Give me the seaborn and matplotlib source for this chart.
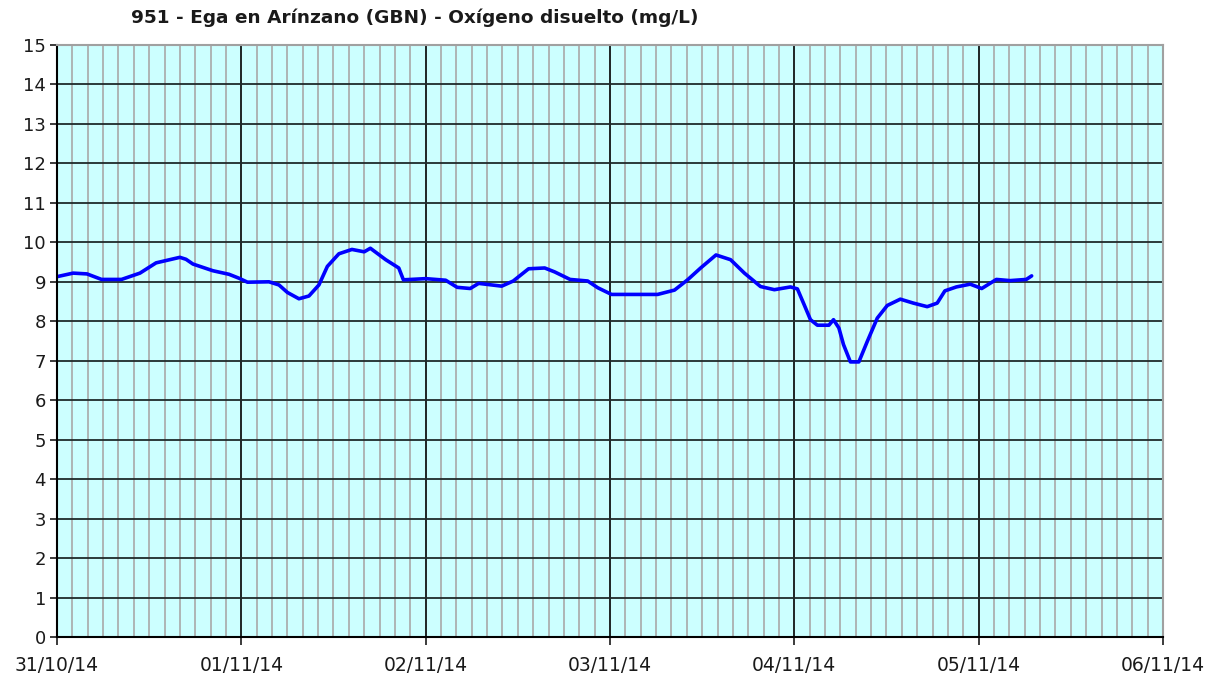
import pandas as pd
import numpy as np
import matplotlib
matplotlib.use('Agg')
import matplotlib.pyplot as plt
import matplotlib.dates as mdates
import seaborn as sns

# Data: hours since 31/10/14 00:00 and dissolved oxygen (mg/L)
start = '2014-10-31 00:00'
hours = [0, 2.1, 3.9, 5.8, 8.4, 10.8, 12.9, 16.0, 16.8, 17.7, 20.3, 22.4, 23.7,
         24.8, 27.6, 28.9, 30.0, 31.5, 32.8, 34.1, 35.2, 36.7, 38.4, 40.0, 40.8,
         42.8, 44.5, 45.1, 48.0, 50.6, 52.1, 53.8, 54.9, 57.9, 59.4, 61.4, 63.5,
         64.8, 66.8, 69.1, 70.4, 72.2, 78.2, 80.4, 82.1, 83.8, 85.8, 87.7, 89.5,
         91.6, 93.4, 95.5, 96.4, 97.3, 98.1, 99.0, 100.5, 101.1, 101.8, 102.4,
         103.3, 104.4, 105.5, 106.8, 108.1, 109.8, 111.5, 113.3, 114.6, 115.6,
         117.1, 118.9, 120.4, 122.3, 124.1, 126.2, 126.9]
oxygen = [9.13, 9.22, 9.20, 9.06, 9.06, 9.22, 9.48, 9.62, 9.57, 9.45, 9.28, 9.19, 9.09,
          8.99, 9.00, 8.92, 8.73, 8.57, 8.64, 8.92, 9.39, 9.71, 9.82, 9.76, 9.85,
          9.56, 9.35, 9.05, 9.08, 9.04, 8.86, 8.83, 8.96, 8.89, 9.02, 9.33, 9.35,
          9.25, 9.06, 9.02, 8.85, 8.68, 8.68, 8.79, 9.05, 9.35, 9.68, 9.56, 9.22,
          8.88, 8.80, 8.87, 8.82, 8.41, 8.04, 7.90, 7.90, 8.04, 7.83, 7.41,
          6.97, 6.97, 7.49, 8.08, 8.40, 8.56, 8.46, 8.37, 8.46, 8.77,
          8.87, 8.94, 8.83, 9.06, 9.03, 9.06, 9.15]
x_start = '2014-10-31'
x_end = '2014-11-06'
title = '951 - Ega en Arínzano (GBN) - Oxígeno disuelto (mg/L)'

df = pd.DataFrame({
    'fecha': pd.Timestamp(start) + pd.to_timedelta(hours, unit='h'),
    'valor': oxygen,
})

sns.set_style('white')
plt.rcParams['font.family'] = ['DejaVu Sans']

fig = plt.figure(figsize=(12.22, 6.77), dpi=100)
ax = fig.add_axes([57 / 1222, 40 / 677, 1106 / 1222, 592 / 677])
ax.set_facecolor('#ccffff')

sns.lineplot(data=df, x='fecha', y='valor', ax=ax, color='#0000ff', linewidth=2.6)

ax.set_xlim(pd.Timestamp(x_start), pd.Timestamp(x_end))
ax.set_ylim(0, 15)
ax.set_yticks(range(0, 16))

ax.xaxis.set_major_locator(mdates.DayLocator())
ax.xaxis.set_minor_locator(mdates.HourLocator(interval=2))
ax.xaxis.set_major_formatter(mdates.DateFormatter('%d/%m/%y'))

# grid: grey minor lines every 2 h, black daily lines, dark horizontal lines
ax.grid(which='minor', axis='x', color='#a8a8a8', linewidth=1.2)
ax.grid(which='major', axis='x', color='#000000', linewidth=1.2)
ax.grid(which='major', axis='y', color='#1e2b2b', linewidth=1.3)
ax.set_axisbelow(True)

ax.tick_params(axis='x', which='major', length=6, width=1.2, labelsize=13.5, pad=8, colors='#1a1a1a')
ax.tick_params(axis='x', which='minor', length=0)
ax.tick_params(axis='y', length=5, width=1.2, labelsize=13, pad=3, colors='#1a1a1a')
ax.tick_params(axis='both', which='both', bottom=True, left=True)

for s in ['left', 'bottom']:
    ax.spines[s].set_color('#000000')
    ax.spines[s].set_linewidth(1.5)
for s in ['top', 'right']:
    ax.spines[s].set_color('#a0a0a0')
    ax.spines[s].set_linewidth(1.5)

ax.set_xlabel('')
ax.set_ylabel('')

fig.text(415 / 1222, 1 - 18 / 677, title, ha='center', va='center',
         fontsize=13.3, fontweight='bold', color='#1a1a1a')

fig.savefig('out.png', dpi=100, facecolor='white')
